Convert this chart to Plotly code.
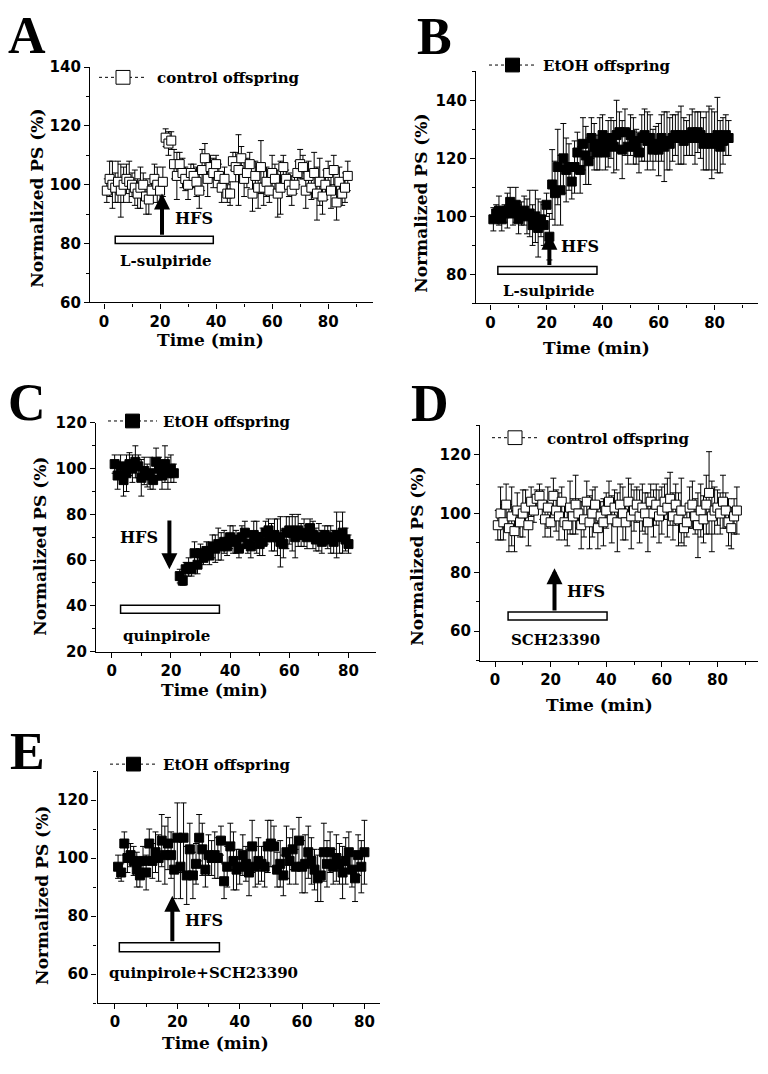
import plotly.graph_objects as go

W, H = 768, 1074

# ---- data (Normalized PS %, mean and SEM) ----
A_time = list(range(1, 88))
A_ps = [98, 102, 100, 99, 101, 98, 100, 102, 101, 100,
        99, 97, 99, 100, 96, 95, 98, 102, 100, 98,
        101, 116, 114, 115, 107, 103, 107, 104, 102, 100,
        104, 103, 101, 98, 105, 109, 102, 106, 104, 107,
        103, 99, 102, 97, 97, 108, 106, 105, 109, 102,
        104, 107, 97, 103, 99, 106, 99, 101, 98, 104,
        102, 97, 99, 106, 102, 100, 98, 100, 104, 107,
        106, 98, 103, 99, 104, 97, 101, 96, 100, 104,
        98, 105, 94, 101, 97, 99, 103]
A_err = [4, 6, 8, 5, 7, 9, 6, 5, 7, 4,
         6, 5, 7, 4, 6, 5, 4, 5, 6, 4,
         5, 3, 4, 3, 5, 8, 4, 5, 4, 5,
         3, 4, 5, 6, 7, 5, 6, 4, 5, 3,
         4, 5, 4, 3, 4, 3, 5, 12, 4, 6,
         5, 4, 6, 5, 7, 9, 6, 5, 4, 6,
         5, 8, 9, 4, 3, 4, 5, 3, 4, 5,
         4, 6, 5, 4, 7, 9, 8, 6, 5, 4,
         6, 5, 6, 5, 4, 5, 5]

B_time = list(range(1, 86))
B_ps = [99, 101, 102, 99, 101, 102, 105, 101, 104, 99,
        101, 102, 100, 101, 97, 100, 96, 99, 97, 104,
        93, 111, 108, 117, 109, 120, 116, 117, 112, 117,
        122, 116, 125, 121, 119, 127, 124, 122, 125, 128,
        122, 125, 127, 124, 128, 129, 123, 129, 124, 128,
        126, 124, 122, 127, 128, 126, 127, 123, 125, 123,
        127, 124, 126, 125, 127, 128, 127, 128, 126, 127,
        128, 129, 127, 129, 128, 125, 126, 127, 125, 126,
        128, 124, 126, 128, 127]
B_err = [4, 3, 5, 4, 3, 6, 5, 4, 6, 5,
         4, 5, 6, 8, 7, 9, 10, 6, 7, 4,
         8, 12, 11, 13, 12, 12, 11, 8, 6, 9,
         7, 8, 9, 10, 8, 7, 8, 6, 9, 7,
         6, 8, 7, 9, 12, 7, 10, 8, 6, 7,
         8, 6, 7, 8, 9, 10, 8, 7, 6, 9,
         8, 12, 10, 9, 8, 7, 9, 10, 8, 6,
         7, 8, 9, 7, 8, 9, 10, 11, 12, 10,
         13, 9, 8, 7, 6]

C_time = list(range(1, 22)) + list(range(23, 81))
C_ps = [102, 97, 101, 95, 98, 102, 100, 103, 101, 96,
        99, 97, 98, 95, 103, 100, 97, 102, 98, 100, 98,
        53, 51, 56, 57, 56, 63, 58, 63, 61, 64,
        62, 66, 65, 67, 66, 68, 66, 70, 69, 68,
        65, 70, 72, 67, 66, 71, 70, 67, 68, 72,
        73, 70, 71, 70, 68, 67, 72, 73, 72, 70,
        73, 71, 72, 70, 74, 71, 69, 70, 68, 71,
        70, 69, 68, 71, 70, 72, 69, 67]
C_err = [4, 6, 5, 7, 8, 5, 6, 7, 5, 8,
         6, 5, 7, 4, 6, 5, 6, 8, 7, 6, 4,
         3, 2, 3, 4, 3, 5, 4, 4, 3, 4,
         4, 5, 6, 7, 6, 5, 4, 5, 6, 5,
         4, 5, 5, 4, 5, 6, 7, 5, 6, 5,
         5, 6, 7, 8, 11, 6, 7, 6, 8, 9,
         7, 5, 6, 5, 4, 6, 5, 6, 5, 4,
         5, 6, 5, 10, 7, 9, 5, 4]

D_time = list(range(1, 88))
D_ps = [96, 100, 97, 103, 95, 99, 94, 101, 97, 100,
        102, 96, 104, 101, 105, 106, 103, 98, 102, 97,
        106, 101, 99, 104, 97, 96, 102, 99, 103, 100,
        96, 98, 104, 97, 100, 103, 95, 99, 97, 101,
        104, 98, 102, 97, 103, 100, 97, 104, 99, 101,
        103, 99, 102, 100, 97, 104, 100, 103, 99, 101,
        104, 102, 105, 99, 103, 98, 101, 95, 97, 102,
        103, 99, 96, 101, 98, 103, 107, 99, 101, 102,
        100, 104, 101, 97, 95, 99, 101]
D_err = [5, 9, 6, 7, 8, 10, 7, 6, 5, 8,
         6, 7, 5, 4, 3, 4, 5, 6, 7, 5,
         6, 7, 8, 5, 6, 7, 9, 6, 10, 5,
         8, 6, 7, 9, 8, 6, 7, 5, 8, 6,
         7, 8, 6, 10, 7, 9, 6, 8, 11, 7,
         6, 9, 8, 7, 10, 6, 8, 7, 9, 8,
         6, 10, 9, 8, 7, 9, 11, 6, 5, 7,
         8, 6, 11, 9, 8, 10, 14, 12, 8, 6,
         7, 9, 6, 8, 7, 6, 8]

E_time = list(range(1, 81))
E_ps = [97, 95, 105, 100, 101, 99, 96, 94, 99, 95,
        105, 99, 102, 100, 106, 101, 105, 101, 96, 107,
        97, 107, 94, 103, 94, 98, 107, 103, 96, 101,
        100, 101, 100, 106, 92, 97, 104, 99, 96, 97,
        101, 98, 95, 104, 97, 99, 98, 97, 104, 105,
        104, 96, 98, 94, 102, 99, 103, 97, 106, 97,
        98, 102, 99, 96, 93, 94, 102, 98, 102, 97,
        100, 98, 95, 99, 102, 96, 93, 101, 97, 102]
E_err = [4, 3, 4, 5, 4, 5, 6, 4, 5, 6,
         5, 6, 7, 8, 9, 10, 9, 8, 10, 12,
         11, 12, 10, 9, 8, 7, 8, 9, 6, 7,
         6, 8, 7, 5, 6, 7, 8, 10, 7, 6,
         7, 6, 8, 9, 7, 8, 6, 7, 9, 8,
         7, 6, 8, 7, 9, 8, 7, 6, 8, 9,
         10, 9, 8, 7, 8, 9, 10, 8, 7, 6,
         8, 7, 9, 8, 7, 6, 8, 7, 9, 11]

groups = {"control": "control offspring", "etoh": "EtOH offspring"}


def fx(px):
    return px / W


def fy(py):
    return 1 - py / H


SERIF = "DejaVu Serif"
SANS = "DejaVu Sans"

# panel layout (pixel boxes), ranges and annotations
panels = [
    dict(letter="A", t=A_time, v=A_ps, e=A_err, grp="control",
         xpx=(90, 373), ypx=(59, 298.5), xr=(-5, 96), yr=(60, 140),
         letter_pos=(27, 27), xt=(210, 337), yt=(37, 193),
         leg=(99, 147, 69.5, 155),
         rect=(4, 39, 80, 82.5), drug="L-sulpiride", drug_pos=(22, 74),
         arrow=(20.7, 82.5, 97), hfs=(32, 88.5)),
    dict(letter="B", t=B_time, v=B_ps, e=B_err, grp="etoh",
         xpx=(476, 758), ypx=(63.3, 299.5), xr=(-5.2, 95.5), yr=(70, 150),
         letter_pos=(434, 28), xt=(596, 345), yt=(421, 198),
         leg=(489, 536, 57, 541),
         rect=(2.6, 38, 80.1, 82.7), drug="L-sulpiride", drug_pos=(21, 74.2),
         arrow=(21, 82.7, 94), hfs=(32, 89.5)),
    dict(letter="C", t=C_time, v=C_ps, e=C_err, grp="etoh",
         xpx=(96, 376), ypx=(421, 653.5), xr=(-5.3, 89.3), yr=(20, 120),
         letter_pos=(27, 400), xt=(214, 693), yt=(40, 547),
         leg=(108, 157, 419, 161),
         rect=(3, 36.4, 36.8, 40.3), drug="quinpirole", drug_pos=(18.5, 27),
         arrow=(19.5, 78, 56), hfs=(9.3, 70)),
    dict(letter="D", t=D_time, v=D_ps, e=D_err, grp="control",
         xpx=(480, 758), ypx=(423.3, 662.7), xr=(-5.4, 94.6), yr=(50, 130),
         letter_pos=(430, 401), xt=(599, 708), yt=(417, 557),
         leg=(492, 538, 436, 545),
         rect=(4.7, 40.3, 63.8, 66.5), drug="SCH23390", drug_pos=(21.9, 57),
         arrow=(21.4, 66.5, 81.4), hfs=(32.6, 73.4)),
    dict(letter="E", t=E_time, v=E_ps, e=E_err, grp="etoh",
         xpx=(97.5, 380), ypx=(775, 1011), xr=(-5.6, 85), yr=(50, 130),
         letter_pos=(27, 755), xt=(215, 1052), yt=(42, 902),
         leg=(110, 157, 768, 161),
         rect=(1.4, 33.5, 67.7, 70.8), drug="quinpirole+SCH23390", drug_pos=(28.4, 60.4),
         arrow=(18.4, 70.8, 87), hfs=(28.6, 78.3)),
]

fig = go.Figure()
shapes = []
annotations = []
layout = {}

for i, p in enumerate(panels, start=1):
    xa = "x" if i == 1 else f"x{i}"
    ya = "y" if i == 1 else f"y{i}"
    filled = p["grp"] == "etoh"

    fig.add_trace(go.Scatter(
        x=p["t"], y=p["v"], xaxis=xa, yaxis=ya, mode="markers",
        marker=dict(symbol="square", size=9, color="black" if filled else "white",
                    line=dict(color="black", width=1)),
        error_y=dict(type="data", array=p["e"], color="black", thickness=1, width=3),
        showlegend=False, cliponaxis=False,
    ))

    axis_common = dict(
        showline=True, linecolor="black", linewidth=1.3, mirror=False,
        ticks="outside", ticklen=5, tickwidth=1.3, tickcolor="black",
        showgrid=False, zeroline=False, dtick=20, tick0=0,
        minor=dict(ticks="outside", ticklen=3, tickwidth=1, tickcolor="black", dtick=10),
        tickfont=dict(family=SANS, size=15, color="black", weight="bold"),
    )
    layout["xaxis" if i == 1 else f"xaxis{i}"] = dict(
        axis_common, domain=[fx(p["xpx"][0]), fx(p["xpx"][1])],
        range=list(p["xr"]), anchor=ya)
    layout["yaxis" if i == 1 else f"yaxis{i}"] = dict(
        axis_common, domain=[fy(p["ypx"][1]), fy(p["ypx"][0])],
        range=list(p["yr"]), anchor=xa)

    # panel letter
    annotations.append(dict(
        text=p["letter"], x=fx(p["letter_pos"][0]), y=fy(p["letter_pos"][1]),
        xref="paper", yref="paper", showarrow=False, xanchor="center", yanchor="middle",
        font=dict(family="Liberation Serif", size=52, color="black", weight="bold")))

    # axis titles
    annotations.append(dict(
        text="Time (min)", x=fx(p["xt"][0]), y=fy(p["xt"][1]),
        xref="paper", yref="paper", showarrow=False, xanchor="center", yanchor="middle",
        font=dict(family=SERIF, size=17, color="black", weight="bold")))
    annotations.append(dict(
        text="Normalized PS (%)", x=fx(p["yt"][0]), y=fy(p["yt"][1]), textangle=-90,
        xref="paper", yref="paper", showarrow=False, xanchor="center", yanchor="middle",
        font=dict(family=SERIF, size=17, color="black", weight="bold")))

    # legend sample: dotted line, square, label
    lx0, lx1, ly, tx = p["leg"]
    shapes.append(dict(type="line", xref="paper", yref="paper",
                       x0=fx(lx0), x1=fx(lx1), y0=fy(ly), y1=fy(ly),
                       line=dict(color="black", width=1, dash="dot")))
    cx = (lx0 + lx1) / 2
    shapes.append(dict(type="rect", xref="paper", yref="paper",
                       x0=fx(cx - 7), x1=fx(cx + 7), y0=fy(ly + 7), y1=fy(ly - 7),
                       fillcolor="black" if filled else "white",
                       line=dict(color="black", width=1)))
    annotations.append(dict(
        text=groups[p["grp"]], x=fx(tx), y=fy(ly + 1), xref="paper", yref="paper",
        showarrow=False, xanchor="left", yanchor="middle",
        font=dict(family=SERIF, size=15, color="black", weight="bold")))

    # drug application bar
    r = p["rect"]
    shapes.append(dict(type="rect", xref=xa, yref=ya, x0=r[0], x1=r[1], y0=r[2], y1=r[3],
                       fillcolor="white", line=dict(color="black", width=1.5)))
    annotations.append(dict(
        text=p["drug"], x=p["drug_pos"][0], y=p["drug_pos"][1], xref=xa, yref=ya,
        showarrow=False, xanchor="center", yanchor="middle",
        font=dict(family=SERIF, size=15, color="black", weight="bold")))

    # HFS arrow
    ax_x, tail_y, head_y = p["arrow"]
    annotations.append(dict(
        x=ax_x, y=head_y, ax=ax_x, ay=tail_y, xref=xa, yref=ya, axref=xa, ayref=ya,
        text="", showarrow=True, arrowhead=2, arrowsize=0.8, arrowwidth=4,
        arrowcolor="black", standoff=0, startstandoff=0))
    annotations.append(dict(
        text="HFS", x=p["hfs"][0], y=p["hfs"][1], xref=xa, yref=ya,
        showarrow=False, xanchor="center", yanchor="middle",
        font=dict(family=SERIF, size=16, color="black", weight="bold")))

fig.update_layout(
    width=W, height=H,
    margin=dict(l=0, r=0, t=0, b=0),
    paper_bgcolor="white", plot_bgcolor="white",
    showlegend=False,
    shapes=shapes, annotations=annotations,
    **layout,
)

# page body margin would push the fixed-size figure off the window
fig.write_html("out.html", config={"displayModeBar": False},
               post_script="document.body.style.margin='0';document.body.style.overflow='hidden';")
